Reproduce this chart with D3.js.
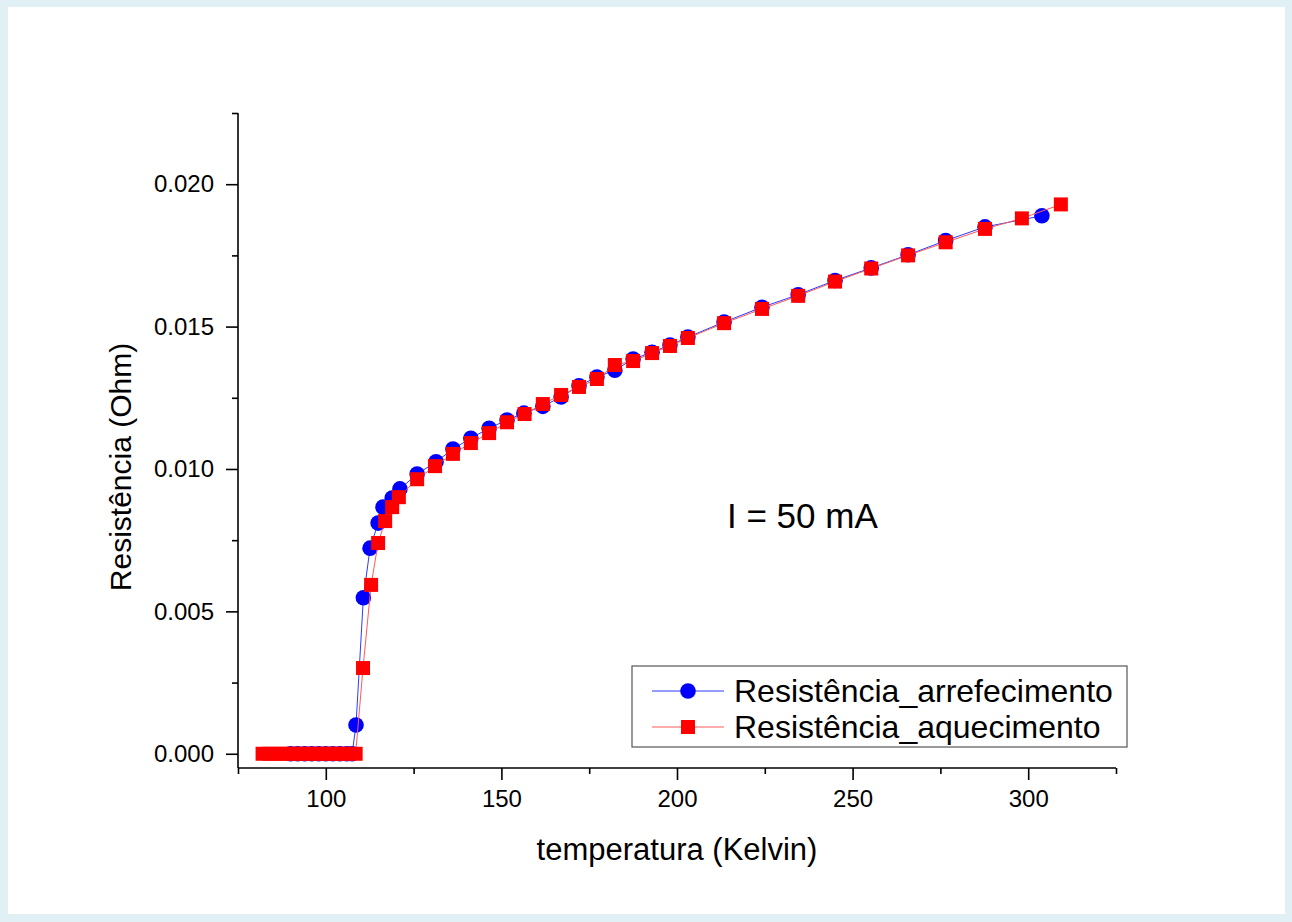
<!DOCTYPE html>
<html lang="pt">
<head>
<meta charset="UTF-8">
<title>Resistência vs temperatura</title>
<script src="https://d3js.org/d3.v7.min.js"></script>
<style>
    body { margin: 0; background: #e1f0f5; }
    svg { display: block; }
    .axis path, .axis line { stroke: #000; stroke-width: 1.6px; }
    .axis text { font-family: 'Liberation Sans', Arial, sans-serif; font-size: 24px; fill: #000; }
    .title { font-family: 'Liberation Sans', Arial, sans-serif; font-size: 30px; fill: #000; }
    .legend text { font-family: 'Liberation Sans', Arial, sans-serif; font-size: 32px; fill: #000; }
</style>
</head>
<body>
<svg width="1292" height="922"></svg>
<script>
    // cooling run (blue circles)
    const coolT = [90, 92, 94, 96, 98, 100, 102, 104, 106, 107.5, 108.6, 110.7, 112.6, 114.9, 116.3, 118.9, 121.1,
        126, 131.4, 136.2, 141.3, 146.5, 151.6, 156.4, 161.8, 167, 172.1, 177.2, 182.3, 187.5, 192.9, 198, 203.1,
        213.4, 224.2, 234.5, 245, 255.3, 265.8, 276.5, 287.7, 303.9];
    const coolR = [0, 0, 0, 0, 0, 0, 0, 0, 0, 0, 0.00101, 0.00548, 0.00722, 0.0081, 0.00866, 0.00898, 0.0093,
        0.00982, 0.01025, 0.0107, 0.01108, 0.01143, 0.01172, 0.01196, 0.0122, 0.01253, 0.01292, 0.01323, 0.01347, 0.01386, 0.0141, 0.01435, 0.01463,
        0.01516, 0.01568, 0.01612, 0.01662, 0.01706, 0.01752, 0.01802, 0.0185, 0.01889];

    // heating run (red squares)
    const heatT = [82, 84, 86, 88, 90, 92, 94, 96, 98, 100, 102, 104, 106, 108.5, 110.6, 112.9, 114.9, 116.9, 118.9, 120.8,
        126, 131.1, 136.2, 141.3, 146.5, 151.6, 156.6, 161.8, 167, 172.1, 177.2, 182.3, 187.5, 192.9, 198, 203.1,
        213.4, 224.2, 234.5, 245, 255.3, 265.8, 276.5, 287.7, 298.2, 309.3];
    const heatR = [0, 0, 0, 0, 0, 0, 0, 0, 0, 0, 0, 0, 0, 0, 0.00301, 0.00593, 0.0074, 0.00817, 0.00866, 0.00901,
        0.00964, 0.0101, 0.01053, 0.01091, 0.01126, 0.01164, 0.01193, 0.01228, 0.0126, 0.01288, 0.01316, 0.01365, 0.01379, 0.01407, 0.01432, 0.0146,
        0.01512, 0.01562, 0.01608, 0.01658, 0.01704, 0.0175, 0.01796, 0.01843, 0.0188, 0.01929];

    const xTicks = [100, 150, 200, 250, 300];
    const yTicks = [0, 0.005, 0.010, 0.015, 0.020];
    const seriesNames = ["Resistência_arrefecimento", "Resistência_aquecimento"];

    const svg = d3.select("svg");

    // page frame
    svg.append("rect").attr("width", 1292).attr("height", 922).attr("fill", "#e1f0f5");
    svg.append("rect").attr("x", 8).attr("y", 7).attr("width", 1277).attr("height", 907).attr("fill", "#fff");

    const x = d3.scaleLinear().domain([75, 325]).range([238, 1116]);
    const y = d3.scaleLinear().domain([-0.0005, 0.0225]).range([768, 113]);

    // minor ticks first, then majors
    const xAxisMinor = d3.axisBottom(x).tickValues(d3.range(75, 326, 50)).tickSize(6).tickFormat("");
    const xAxis = d3.axisBottom(x).tickValues(xTicks).tickSize(12).tickPadding(10).tickFormat(d3.format("d"));
    const yAxisMinor = d3.axisLeft(y).tickValues(d3.range(0.0025, 0.0226, 0.005)).tickSize(6).tickFormat("");
    const yAxis = d3.axisLeft(y).tickValues(yTicks).tickSize(12).tickPadding(12).tickFormat(d3.format(".3f"));

    svg.append("g").attr("class", "axis").attr("transform", "translate(0,768)").call(xAxisMinor);
    svg.append("g").attr("class", "axis").attr("transform", "translate(0,768)").call(xAxis)
        .call(g => g.select(".domain").remove());
    svg.append("g").attr("class", "axis").attr("transform", "translate(238,0)").call(yAxisMinor);
    svg.append("g").attr("class", "axis").attr("transform", "translate(238,0)").call(yAxis)
        .call(g => g.select(".domain").remove());
    svg.selectAll(".axis .domain").attr("d", function () {
        return d3.select(this.parentNode).attr("transform") === "translate(0,768)"
            ? "M238,0H1116" : "M0,113V768";
    });

    // axis titles
    svg.append("text").attr("class", "title").attr("x", 677).attr("y", 860)
        .attr("text-anchor", "middle").style("font-size", "31px").text("temperatura (Kelvin)");
    svg.append("text").attr("class", "title").attr("transform", "translate(131,467) rotate(-90)")
        .attr("text-anchor", "middle").text("Resistência (Ohm)");

    const cool = coolT.map((t, i) => ({ t: t, r: coolR[i] }));
    const heat = heatT.map((t, i) => ({ t: t, r: heatR[i] }));

    const line = d3.line().x(d => x(d.t)).y(d => y(d.r));

    svg.append("path").datum(cool).attr("d", line)
        .attr("fill", "none").attr("stroke", "#2a3cff").attr("stroke-width", 1);
    svg.append("g").selectAll("circle").data(cool).enter().append("circle")
        .attr("cx", d => x(d.t)).attr("cy", d => y(d.r)).attr("r", 7.8).attr("fill", "#0000ff");

    svg.append("path").datum(heat).attr("d", line)
        .attr("fill", "none").attr("stroke", "#ff5a5a").attr("stroke-width", 1);
    svg.append("g").selectAll("rect").data(heat).enter().append("rect")
        .attr("x", d => x(d.t) - 7).attr("y", d => y(d.r) - 7)
        .attr("width", 14).attr("height", 14).attr("fill", "#ff0000");

    // annotation
    svg.append("text").attr("class", "title").attr("x", 727).attr("y", 528)
        .style("font-size", "35px").text("I = 50 mA");

    // legend
    const legend = svg.append("g").attr("class", "legend");
    legend.append("rect").attr("x", 632).attr("y", 666).attr("width", 495).attr("height", 81)
        .attr("fill", "#fff").attr("stroke", "#555").attr("stroke-width", 1.2);
    const rows = [
        { name: seriesNames[0], color: "#2a3cff", shape: "circle", cy: 691 },
        { name: seriesNames[1], color: "#ff5a5a", shape: "rect", cy: 727 }
    ];
    rows.forEach(function (row) {
        legend.append("line").attr("x1", 652).attr("x2", 724).attr("y1", row.cy).attr("y2", row.cy)
            .attr("stroke", row.color).attr("stroke-width", 1);
        if (row.shape === "circle") {
            legend.append("circle").attr("cx", 688).attr("cy", row.cy).attr("r", 7.8).attr("fill", "#0000ff");
        } else {
            legend.append("rect").attr("x", 681).attr("y", row.cy - 7).attr("width", 14).attr("height", 14).attr("fill", "#ff0000");
        }
        legend.append("text").attr("x", 734).attr("y", row.cy + 11).text(row.name);
    });
</script>
</body>
</html>
